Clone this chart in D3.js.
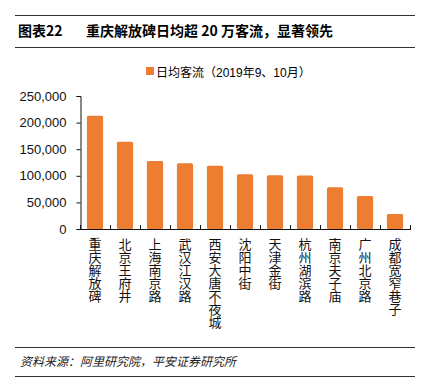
<!DOCTYPE html>
<html>
<head>
<meta charset="utf-8">
<script src="https://cdn.jsdelivr.net/npm/d3@7"></script>
<style>
  body { margin: 0; background: #fff; }
  svg { display: block; font-family: "Liberation Sans", "Noto Sans CJK SC", sans-serif; }
</style>
</head>
<body>
<svg id="chart" width="435" height="386"></svg>
<script>
var streets = ["重庆解放碑", "北京王府井", "上海南京路", "武汉江汉路", "西安大唐不夜城", "沈阳中街", "天津金街", "杭州湖滨路", "南京夫子庙", "广州北京路", "成都宽窄巷子"]
var visitors = [213000, 164000, 128000, 123500, 119000, 103000, 101000, 100500, 78500, 62000, 28000]
var yTicks = [0, 50000, 100000, 150000, 200000, 250000]
var seriesName = "日均客流（2019年9、10月）"
var title = ["图表22", "重庆解放碑日均超 20 万客流，显著领先"]
var source = "资料来源：阿里研究院，平安证券研究所"

var dims = { width: 435, height: 386, left: 80, right: 410, top: 96, bottom: 229 }
var orange = "#ED7D31"
var cjk = "'Noto Sans CJK SC', sans-serif"

var svg = d3.select("#chart")

// header and footer rules
function rule(y){
  svg.append("line").attr("x1", 15).attr("x2", 415).attr("y1", y).attr("y2", y)
    .attr("stroke", "#333").attr("stroke-width", 1)
}
rule(15.5); rule(47.5); rule(347.5); rule(376.5)

svg.append("text").attr("x", 18).attr("y", 36)
  .style("font-size", "14px").style("font-weight", "bold").attr("font-family", cjk)
  .text(title[0])
svg.append("text").attr("x", 86).attr("y", 36)
  .style("font-size", "14px").style("font-weight", "bold").attr("font-family", cjk)
  .text(title[1])

svg.append("text").attr("x", 20).attr("y", 366)
  .style("font-size", "12px").style("font-style", "italic").attr("font-family", cjk)
  .attr("fill", "#222")
  .text(source)

// legend
svg.append("rect").attr("x", 146).attr("y", 67).attr("width", 8).attr("height", 8).attr("fill", orange)
svg.append("text").attr("x", 156).attr("y", 77)
  .style("font-size", "12px").attr("font-family", "'Liberation Sans', 'Noto Sans CJK SC', sans-serif")
  .text(seriesName)

var x = d3.scaleBand()
  .domain(streets)
  .range([dims.left, dims.right])
  .paddingInner(0.46)
  .paddingOuter(0.23)

var y = d3.scaleLinear()
  .domain([0, 250000])
  .range([dims.bottom, dims.top])

var yAxis = svg.append("g")
  .attr("transform", `translate(${dims.left + 0.5},0)`)
  .call(d3.axisLeft(y).tickValues(yTicks).tickFormat(d3.format(",")).tickSizeInner(4).tickSizeOuter(4))
yAxis.selectAll("text").style("font-size", "13px").attr("font-family", "'Liberation Sans', sans-serif").attr("fill", "#111").attr("x", -14)
yAxis.selectAll("line, path").attr("stroke", "#111")

svg.selectAll("rect.bar")
  .data(visitors)
  .enter()
  .append("rect")
    .attr("class", "bar")
    .attr("x", function(d, i){ return x(streets[i]) })
    .attr("y", function(d){ return y(d) })
    .attr("width", x.bandwidth())
    .attr("height", function(d){ return dims.bottom - y(d) })
    .attr("rx", 1.5)
    .attr("fill", orange)

// x axis line with ticks between categories
svg.append("line")
  .attr("x1", dims.left).attr("x2", dims.right)
  .attr("y1", dims.bottom + 0.5).attr("y2", dims.bottom + 0.5)
  .attr("stroke", "#111")
var step = x.step()
svg.selectAll("line.xtick")
  .data(d3.range(streets.length + 1))
  .enter()
  .append("line")
    .attr("class", "xtick")
    .attr("x1", function(i){ return Math.round(dims.left + i * step) + 0.5 })
    .attr("x2", function(i){ return Math.round(dims.left + i * step) + 0.5 })
    .attr("y1", dims.bottom - 4).attr("y2", dims.bottom + 1)
    .attr("stroke", "#111")

// vertical category labels
svg.selectAll("text.cat")
  .data(streets)
  .enter()
  .append("text")
    .attr("class", "cat")
    .attr("x", function(d){ return x(d) + x.bandwidth() / 2 })
    .attr("y", 238)
    .style("writing-mode", "vertical-rl")
    .style("font-size", "13px")
    .attr("font-family", cjk)
    .attr("fill", "#111")
    .text(function(d){ return d })
</script>
</body>
</html>
